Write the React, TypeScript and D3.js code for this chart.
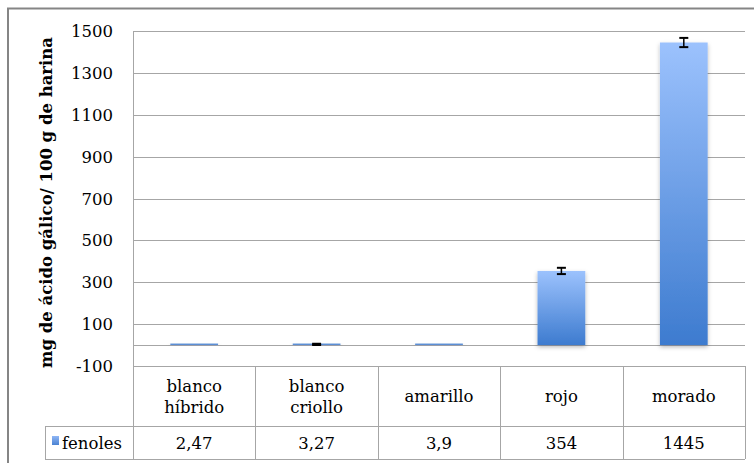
import React from "react";
import * as d3 from "d3";

const categories: string[][] = [
  ["blanco", "híbrido"],
  ["blanco", "criollo"],
  ["amarillo"],
  ["rojo"],
  ["morado"],
];
const values: number[] = [2.47, 3.27, 3.9, 354, 1445];
const valueLabels: string[] = ["2,47", "3,27", "3,9", "354", "1445"];
const errors: number[] = [0, 3, 0, 15, 22];
const yTicks: number[] = [-100, 100, 300, 500, 700, 900, 1100, 1300, 1500];
const seriesName = "fenoles";
const yTitle = "mg de ácido gálico/ 100 g de harina";

const W = 754;
const H = 463;
const FONT = "'DejaVu Serif', serif";

const App: React.FC = () => {
  const left = 133;
  const right = 745;
  const top = 31;
  const bottom = 366;
  const catRowBottom = 426;
  const dataRowBottom = 459;
  const legendLeft = 45;

  const keys = categories.map((c) => c.join(" "));
  const x = d3.scaleBand<string>().domain(keys).range([left, right]).padding(0);
  const y = d3.scaleLinear().domain([-100, 1500]).range([bottom, top]);
  const bw = x.bandwidth();
  const barW = bw * 0.39;

  return (
    <svg
      width={W}
      height={H}
      style={{ position: "absolute", left: 0, top: 0, background: "#fff" }}
      fontFamily={FONT}
    >
      <defs>
        <linearGradient id="barGrad" x1="0" y1="0" x2="0" y2="1">
          <stop offset="0" stopColor="#9cc2fd" />
          <stop offset="1" stopColor="#3d7bcf" />
        </linearGradient>
        <linearGradient id="legGrad" x1="0" y1="0" x2="0" y2="1">
          <stop offset="0" stopColor="#8fb6f5" />
          <stop offset="1" stopColor="#4a82d2" />
        </linearGradient>
        <filter id="shadow" x="-20%" y="-10%" width="140%" height="130%">
          <feDropShadow dx="0" dy="2" stdDeviation="2" floodColor="#000" floodOpacity="0.28" />
        </filter>
      </defs>

      {/* outer frame */}
      <rect x={8} y={8.5} width={W + 10} height={H + 10} fill="none" stroke="#858585" strokeWidth={2} />

      {/* gridlines */}
      {yTicks.map((t) => (
        <line key={t} x1={left} x2={right} y1={Math.round(y(t)) + 0.5} y2={Math.round(y(t)) + 0.5} stroke="#a6a6a6" strokeWidth={1} />
      ))}
      {/* zero axis line */}
      <line x1={left} x2={right} y1={Math.round(y(0)) + 0.5} y2={Math.round(y(0)) + 0.5} stroke="#a6a6a6" strokeWidth={1} />
      {/* vertical axis */}
      <line x1={left + 0.5} x2={left + 0.5} y1={top} y2={dataRowBottom} stroke="#a6a6a6" strokeWidth={1} />

      {/* y tick labels */}
      {yTicks.map((t) => (
        <text key={t} x={113} y={y(t) + 6} textAnchor="end" fontSize={16.5} fill="#000">
          {t}
        </text>
      ))}

      {/* y title */}
      <text
        transform={`translate(52, ${(top + bottom) / 2 + 4}) rotate(-90)`}
        textAnchor="middle"
        fontSize={16.5}
        fontWeight="bold"
        fill="#000"
      >
        {yTitle}
      </text>

      {/* bars */}
      {keys.map((k, i) => {
        const cx = (x(k) as number) + bw / 2;
        const y0 = y(0);
        const h = Math.max(y0 - y(values[i]), 1.5);
        return (
          <g key={k}>
            <rect
              x={cx - barW / 2}
              y={y0 - h}
              width={barW}
              height={h}
              fill={h > 3 ? "url(#barGrad)" : "#5b8fd6"}
              filter="url(#shadow)"
            />
            {errors[i] > 0 && (
              <g stroke="#000">
                <line x1={cx} x2={cx} y1={y(values[i] + errors[i])} y2={y(values[i] - errors[i])} strokeWidth={1.5} />
                <line x1={cx - 4.5} x2={cx + 4.5} y1={y(values[i] + errors[i])} y2={y(values[i] + errors[i])} strokeWidth={2} />
                <line x1={cx - 4.5} x2={cx + 4.5} y1={y(values[i] - errors[i])} y2={y(values[i] - errors[i])} strokeWidth={2} />
              </g>
            )}
          </g>
        );
      })}

      {/* data table */}
      <g stroke="#a6a6a6" strokeWidth={1} fill="none">
        <line x1={left} x2={right} y1={bottom + 0.5} y2={bottom + 0.5} />
        <line x1={legendLeft} x2={right} y1={catRowBottom + 0.5} y2={catRowBottom + 0.5} />
        <line x1={legendLeft} x2={right} y1={dataRowBottom + 0.5} y2={dataRowBottom + 0.5} />
        <line x1={legendLeft + 0.5} x2={legendLeft + 0.5} y1={catRowBottom} y2={dataRowBottom} />
        {keys.map((k) => {
          const xr = Math.round((x(k) as number) + bw) + 0.5;
          return <line key={k} x1={xr} x2={xr} y1={bottom} y2={dataRowBottom} />;
        })}
      </g>

      {categories.map((c, i) => {
        const cx = (x(keys[i]) as number) + bw / 2;
        const mid = (bottom + catRowBottom) / 2;
        const lh = 21;
        const start = mid + 6 - ((c.length - 1) * lh) / 2;
        return (
          <text key={keys[i]} textAnchor="middle" fontSize={16.5} fill="#000">
            {c.map((line, j) => (
              <tspan key={j} x={cx} y={start + j * lh}>
                {line}
              </tspan>
            ))}
          </text>
        );
      })}

      {valueLabels.map((v, i) => (
        <text
          key={v}
          x={(x(keys[i]) as number) + bw / 2}
          y={(catRowBottom + dataRowBottom) / 2 + 6}
          textAnchor="middle"
          fontSize={16.5}
          fill="#000"
        >
          {v}
        </text>
      ))}

      {/* legend cell */}
      <rect x={52} y={436} width={7} height={9} fill="url(#legGrad)" />
      <text x={62} y={(catRowBottom + dataRowBottom) / 2 + 6} fontSize={16.5} fill="#000">
        {seriesName}
      </text>
    </svg>
  );
};

export default App;
